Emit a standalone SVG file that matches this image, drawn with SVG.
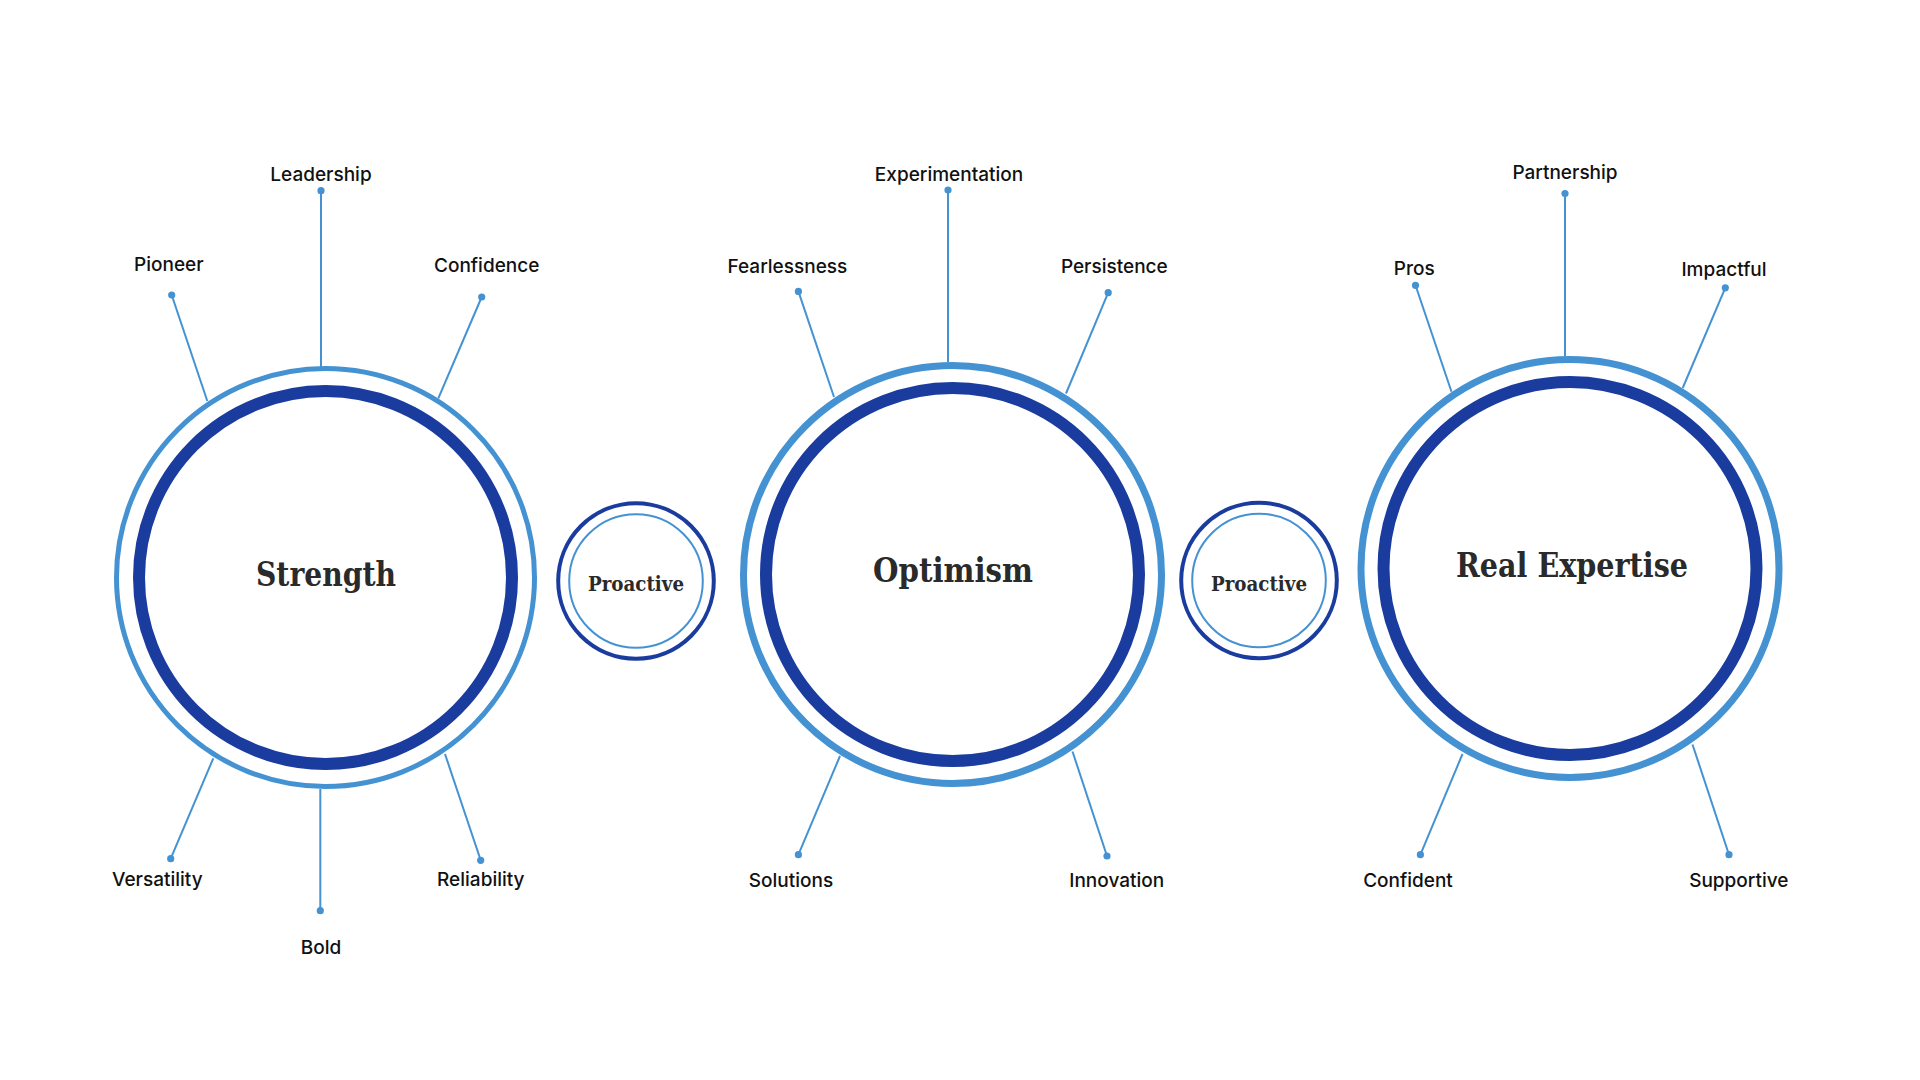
<svg xmlns="http://www.w3.org/2000/svg" width="1920" height="1080" viewBox="0 0 1920 1080">
<style>
.lbl{font-family:Inter,"Noto Sans",sans-serif;font-weight:500;font-size:19px;fill:#111;text-anchor:middle}
.ttl{font-family:"DejaVu Serif","Liberation Serif",serif;font-weight:bold;fill:#2a2a2a;text-anchor:middle}
.ring-l{fill:none;stroke:#4592d3}
.ring-d{fill:none;stroke:#1a3c9f}
.con{stroke:#4592d3;stroke-width:2;fill:none}
.dot{fill:#4592d3}
</style>
<rect width="1920" height="1080" fill="#fff"/>
<g id="connectors">
  <line class="con" x1="321" y1="191" x2="321" y2="367"/>
  <line class="con" x1="171.7" y1="295" x2="207.3" y2="401"/>
  <line class="con" x1="481.7" y1="297" x2="438.3" y2="398.3"/>
  <line class="con" x1="170.7" y1="858.7" x2="213.3" y2="758.3"/>
  <line class="con" x1="320.3" y1="910.7" x2="320.3" y2="789"/>
  <line class="con" x1="480.7" y1="860.3" x2="445" y2="754"/>

  <line class="con" x1="948" y1="190" x2="948" y2="362"/>
  <line class="con" x1="798.4" y1="291.4" x2="834" y2="397"/>
  <line class="con" x1="1108.2" y1="292.7" x2="1066" y2="393.5"/>
  <line class="con" x1="798.4" y1="854.7" x2="840" y2="756"/>
  <line class="con" x1="1107" y1="856" x2="1072.5" y2="751.5"/>

  <line class="con" x1="1565" y1="193.5" x2="1565" y2="356.5"/>
  <line class="con" x1="1415.5" y1="285.3" x2="1451.5" y2="391.7"/>
  <line class="con" x1="1725.3" y1="287.8" x2="1682.7" y2="388"/>
  <line class="con" x1="1420.4" y1="854.7" x2="1462.5" y2="754"/>
  <line class="con" x1="1729" y1="854.7" x2="1692.5" y2="744.5"/>

  <circle class="dot" cx="321" cy="190.7" r="3.6"/>
  <circle class="dot" cx="171.7" cy="295" r="3.6"/>
  <circle class="dot" cx="481.7" cy="297" r="3.6"/>
  <circle class="dot" cx="170.7" cy="858.7" r="3.6"/>
  <circle class="dot" cx="320.3" cy="910.7" r="3.6"/>
  <circle class="dot" cx="480.7" cy="860.3" r="3.6"/>
  <circle class="dot" cx="948" cy="190" r="3.6"/>
  <circle class="dot" cx="798.4" cy="291.4" r="3.6"/>
  <circle class="dot" cx="1108.2" cy="292.7" r="3.6"/>
  <circle class="dot" cx="798.4" cy="854.7" r="3.6"/>
  <circle class="dot" cx="1107" cy="856" r="3.6"/>
  <circle class="dot" cx="1565" cy="193.5" r="3.6"/>
  <circle class="dot" cx="1415.5" cy="285.3" r="3.6"/>
  <circle class="dot" cx="1725.3" cy="287.8" r="3.6"/>
  <circle class="dot" cx="1420.4" cy="854.7" r="3.6"/>
  <circle class="dot" cx="1729" cy="854.7" r="3.6"/>
</g>
<g id="strength">
  <circle class="ring-l" cx="325.5" cy="577.5" r="209" stroke-width="5"/>
  <circle class="ring-d" cx="325.5" cy="577.5" r="186.5" stroke-width="12"/>
  <text class="ttl" x="326" y="586" font-size="33" textLength="140" lengthAdjust="spacingAndGlyphs">Strength</text>
</g>
<g id="proactive-1">
  <circle class="ring-d" cx="636" cy="581" r="77.8" stroke-width="4"/>
  <circle class="ring-l" cx="636" cy="581" r="66.8" stroke-width="2"/>
  <text class="ttl" x="636" y="591" font-size="20" textLength="96" lengthAdjust="spacingAndGlyphs">Proactive</text>
</g>
<g id="optimism">
  <circle class="ring-l" cx="952.5" cy="574.5" r="209" stroke-width="7"/>
  <circle class="ring-d" cx="952.5" cy="574.5" r="186.5" stroke-width="12"/>
  <text class="ttl" x="953" y="582" font-size="34" textLength="160" lengthAdjust="spacingAndGlyphs">Optimism</text>
</g>
<g id="proactive-2">
  <circle class="ring-d" cx="1259" cy="580.5" r="77.8" stroke-width="4"/>
  <circle class="ring-l" cx="1259" cy="580.5" r="66.8" stroke-width="2"/>
  <text class="ttl" x="1259" y="590.5" font-size="20" textLength="96" lengthAdjust="spacingAndGlyphs">Proactive</text>
</g>
<g id="real-expertise">
  <circle class="ring-l" cx="1570" cy="568.5" r="209" stroke-width="7"/>
  <circle class="ring-d" cx="1570" cy="568.5" r="186.5" stroke-width="12"/>
  <text class="ttl" x="1572" y="577" font-size="34" textLength="232" lengthAdjust="spacingAndGlyphs">Real Expertise</text>
</g>
<g id="labels">
  <text class="lbl" x="321" y="180.7">Leadership</text>
  <text class="lbl" x="168.8" y="271">Pioneer</text>
  <text class="lbl" x="486.7" y="272.3">Confidence</text>
  <text class="lbl" x="157.3" y="886">Versatility</text>
  <text class="lbl" x="321" y="954">Bold</text>
  <text class="lbl" x="480.8" y="886">Reliability</text>
  <text class="lbl" x="949" y="180.7">Experimentation</text>
  <text class="lbl" x="787.4" y="272.5">Fearlessness</text>
  <text class="lbl" x="1114.3" y="272.5">Persistence</text>
  <text class="lbl" x="791" y="887">Solutions</text>
  <text class="lbl" x="1116.7" y="887">Innovation</text>
  <text class="lbl" x="1565" y="179.4">Partnership</text>
  <text class="lbl" x="1414.3" y="275">Pros</text>
  <text class="lbl" x="1724" y="276.2">Impactful</text>
  <text class="lbl" x="1408" y="887">Confident</text>
  <text class="lbl" x="1738.8" y="887">Supportive</text>
</g>
</svg>
